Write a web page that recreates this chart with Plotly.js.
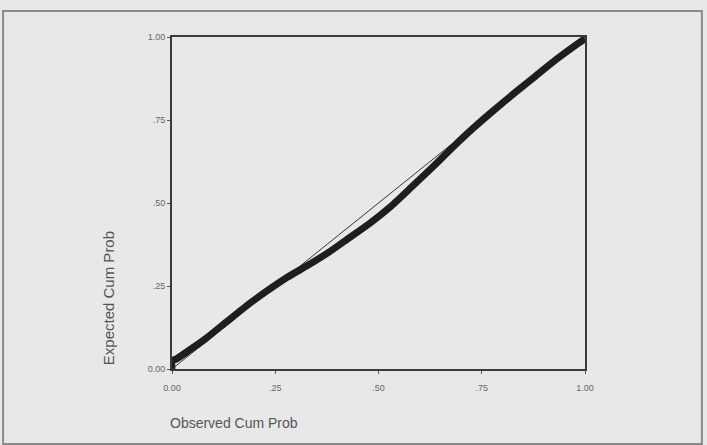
<!DOCTYPE html>
<html>
<head>
<meta charset="utf-8">
<script src="https://cdn.plot.ly/plotly-3.0.1.min.js"></script>
<style>html,body{margin:0;padding:0;background:#e8e8e8;}#chart{width:707px;height:445px;}</style>
</head>
<body>
<div id="chart"></div>
<script>
// Observed vs expected cumulative probability (P-P plot)
const observedCum = [0, 0, 0.01, 0.04, 0.08, 0.13, 0.18, 0.23, 0.28, 0.33, 0.38, 0.43, 0.48, 0.53, 0.58, 0.63, 0.68, 0.73, 0.78, 0.83, 0.88, 0.93, 0.98, 1.0];
const expectedCum = [0, 0.025, 0.03, 0.055, 0.09, 0.14, 0.19, 0.235, 0.277, 0.313, 0.352, 0.396, 0.44, 0.49, 0.548, 0.607, 0.668, 0.726, 0.78, 0.832, 0.882, 0.932, 0.978, 0.995];
const diagonal = [0, 1];
const tickVals = [0, 0.25, 0.5, 0.75, 1.0];
const tickText = ["0.00", ".25", ".50", ".75", "1.00"];

const traces = [
  {x: diagonal, y: diagonal, mode: 'lines', line: {color: '#333', width: 1}, hoverinfo: 'skip'},
  {x: observedCum, y: expectedCum, mode: 'lines', line: {color: '#1e1e1e', width: 7, shape: 'spline', smoothing: 0.6}}
];

const axisCommon = {
  range: [0, 1], tickvals: tickVals, ticktext: tickText,
  showgrid: false, zeroline: false, showline: true, mirror: true,
  linecolor: '#3a3a3a', linewidth: 2, ticks: 'outside', ticklen: 3, tickcolor: '#555',
  tickfont: {family: 'Liberation Sans, Arial, sans-serif', size: 9, color: '#666'}
};

const layout = {
  width: 707, height: 445,
  paper_bgcolor: '#e8e8e8', plot_bgcolor: '#e8e8e8',
  margin: {l: 172, r: 122, t: 37, b: 76},
  showlegend: false,
  xaxis: Object.assign({}, axisCommon, {ticklabelstandoff: 6}),
  yaxis: Object.assign({}, axisCommon),
  shapes: [
    {type: 'rect', xref: 'paper', yref: 'paper', x0: -0.409, x1: 1.283, y0: -0.226, y1: 1.078,
     line: {color: '#8a8a8a', width: 2}, fillcolor: 'rgba(0,0,0,0)', layer: 'below'}
  ],
  annotations: [
    {text: 'Expected Cum Prob', xref: 'paper', yref: 'paper', x: -0.152, y: 0.214,
     textangle: -90, showarrow: false, xanchor: 'center', yanchor: 'middle',
     font: {family: 'Liberation Sans, Arial, sans-serif', size: 15, color: '#555'}},
    {text: 'Observed Cum Prob', xref: 'paper', yref: 'paper', x: 0.151, y: -0.163,
     showarrow: false, xanchor: 'center', yanchor: 'middle',
     font: {family: 'Liberation Sans, Arial, sans-serif', size: 14, color: '#555'}}
  ]
};

Plotly.newPlot('chart', traces, layout, {displayModeBar: false, staticPlot: true});
</script>
</body>
</html>
